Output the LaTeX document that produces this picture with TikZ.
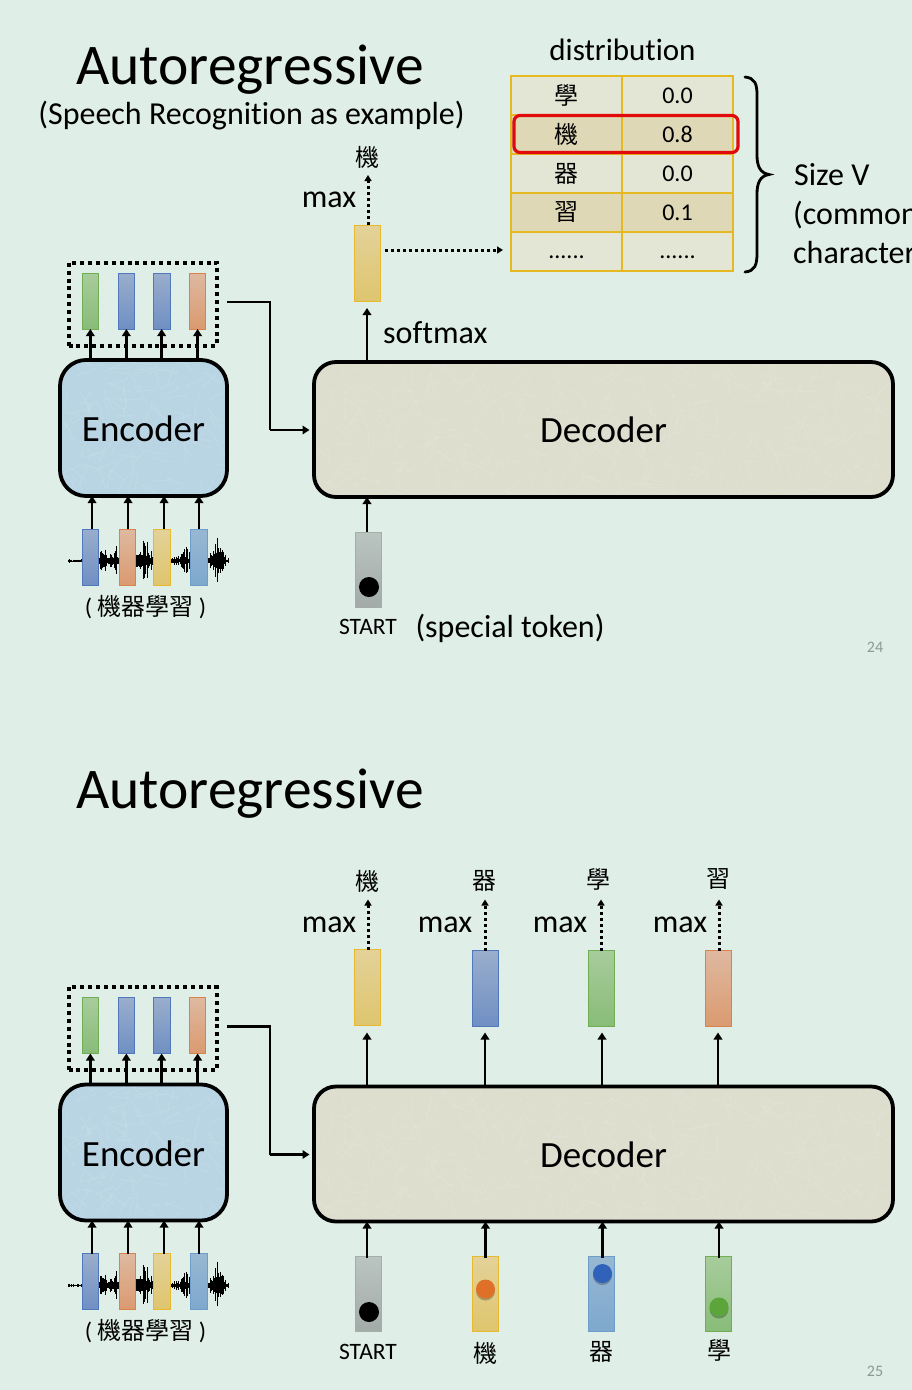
\documentclass[tikz,border=0pt]{standalone}
\usepackage{fontspec}
\setmainfont{Carlito}[RawFeature={-liga}]
\newfontfamily\cjk{Noto Sans CJK TC}
\usetikzlibrary{arrows.meta}
\definecolor{pagebg}{HTML}{DFEEE7}
\definecolor{encfill}{HTML}{B9D5E4}
\definecolor{decfill}{HTML}{DDDECE}
\definecolor{cellA}{HTML}{E3E5D5}
\definecolor{cellB}{HTML}{DFD8B6}
\definecolor{cellline}{HTML}{E6B822}
\definecolor{redbox}{HTML}{E00A0A}
\definecolor{numgray}{HTML}{8C9A94}
\definecolor{barBlueT}{HTML}{9AAECC}\definecolor{barBlueB}{HTML}{6F8FC3}\definecolor{barBlueL}{HTML}{4F78BD}
\definecolor{barOrT}{HTML}{DEB9A0}\definecolor{barOrB}{HTML}{DB9A70}\definecolor{barOrL}{HTML}{D9824C}
\definecolor{barGrT}{HTML}{A8CC9C}\definecolor{barGrB}{HTML}{88BC78}\definecolor{barGrL}{HTML}{71AD52}
\definecolor{barYeT}{HTML}{E3D299}\definecolor{barYeB}{HTML}{DFC56E}\definecolor{barYeL}{HTML}{E8B92F}
\definecolor{barSkT}{HTML}{97B8D2}\definecolor{barSkB}{HTML}{7EA8CE}\definecolor{barSkL}{HTML}{6D9EC9}
\definecolor{barGyT}{HTML}{BAC4C0}\definecolor{barGyB}{HTML}{A3ABA8}\definecolor{barGyL}{HTML}{A5ADA9}
\definecolor{ballOr}{HTML}{DF7028}
\definecolor{ballBl}{HTML}{2F62B8}
\definecolor{ballGr}{HTML}{5BA53A}
\tikzset{
  x=1pt,y=-1pt,
  fs/.style={font=\fontsize{#1}{#1}\selectfont},
  cj/.style={font=\cjk\fontsize{#1}{#1}\selectfont},
  bluebar/.style={top color=barBlueT,bottom color=barBlueB,draw=barBlueL},
  orangebar/.style={top color=barOrT,bottom color=barOrB,draw=barOrL},
  greenbar/.style={top color=barGrT,bottom color=barGrB,draw=barGrL},
  yellowbar/.style={top color=barYeT,bottom color=barYeB,draw=barYeL},
  skybar/.style={top color=barSkT,bottom color=barSkB,draw=barSkL},
  graybar/.style={top color=barGyT,bottom color=barGyB,draw=barGyL},
  barbase/.style={rectangle,inner sep=0pt,outer sep=0pt,line width=.9pt},
  block/.style={rectangle,rounded corners=#1,draw=black,line width=3.8pt,inner sep=0pt,outer sep=0pt},
  arr/.style={draw=black,line width=2.8pt,-{Triangle[width=8.5pt,length=7pt]}},
  dotarr/.style={draw=black,line width=3pt,dash pattern=on 3pt off 3pt,-{Triangle[width=7pt,length=6pt]}},
  link/.style={draw=black,line width=2.8pt},
  cell/.style={rectangle,draw=cellline,line width=1.1pt,inner sep=0pt,outer sep=0pt,minimum width=111pt,minimum height=39pt},
  tok/.style={circle,inner sep=0pt,outer sep=0pt,minimum size=#1},
}
\newcommand{\barnode}[6]{% name, x1, y1, x2, y2, style
  \node[barbase,#6,minimum width=#4pt-#2pt,minimum height=#5pt-#3pt] (#1) at ({(#2+#4)/2},{(#3+#5)/2}) {};}
\newcommand{\ballshadow}[3]{\fill[black,opacity=.25] (#1,#2+1.5) circle (#3);}
\newcommand{\titletext}{\node[fs=57.5,anchor=base,inner sep=0pt] (title) at (250,84) {Autoregressive};}
% faint mottled strokes: x1,y1,x2,y2,radius,count,colour
\newcommand{\mottle}[7]{%
  \begin{scope}
    \clip[rounded corners=#5pt] (#1,#2) rectangle (#3,#4);
    \foreach \k in {1,...,#6}{
      \pgfmathsetmacro{\mx}{#1+(#3-#1)*rnd}
      \pgfmathsetmacro{\my}{#2+(#4-#2)*rnd}
      \pgfmathsetmacro{\ma}{360*rnd}
      \draw[#7,opacity=.1,line width=.8pt] (\mx,\my) .. controls +(\ma:7) and +(\ma+70:9) .. +(\ma+30:18);
    }
  \end{scope}}
% everything common to both slides
\newcommand{\encoderpart}{%
  \pgfmathsetseed{23}
  \node[block=26pt,fill=encfill,minimum width=167pt,minimum height=136pt] (enc) at (143.5,428) {};
  \mottle{62}{362}{225}{494}{24}{130}{white}
  \node[fs=37] (enctext) at (143.5,429) {Encoder};
  \node[rectangle,draw=black,line width=4pt,dash pattern=on 4pt off 3.9pt,minimum width=148pt,minimum height=83pt,inner sep=0pt,outer sep=0pt] (mem) at (142.5,304) {};
  \barnode{o1}{82}{273}{98.7}{329}{greenbar}
  \barnode{o2}{118}{273}{134.7}{329}{bluebar}
  \barnode{o3}{153}{273}{170.3}{329}{bluebar}
  \barnode{o4}{189.5}{273}{205.7}{329}{orangebar}
  \foreach \n in {o1,o2,o3,o4}{\draw[arr] (\n |- enc.north) -- (\n.south);}
  % speech waveform
  \pgfmathsetseed{11}
  \draw[black,line width=1pt] (68,561) -- (228,561);
  \foreach \xx in {68,69,...,228}{
    \pgfmathsetmacro{\ua}{1/(1+((\xx-103)/2.5)^2)}
    \pgfmathsetmacro{\ub}{1/(1+((\xx-115)/4)^2)}
    \pgfmathsetmacro{\uc}{1/(1+((\xx-145)/5)^2)}
    \pgfmathsetmacro{\ud}{1/(1+((\xx-185)/4)^2)}
    \pgfmathsetmacro{\ue}{1/(1+((\xx-217)/4.5)^2)}
    \pgfmathsetmacro{\amp}{(1.5+20*\ua+14*\ub+23*\uc+15*\ud+25*\ue)*(0.2+0.8*rnd)}
    \draw[black,line width=.8pt] (\xx,561-\amp) -- (\xx,561+\amp*0.9);
  }
  \barnode{i1}{82}{529}{98.7}{585}{bluebar}
  \barnode{i2}{119}{529}{135.5}{585}{orangebar}
  \barnode{i3}{153}{529}{170.5}{585}{yellowbar}
  \barnode{i4}{190.3}{529}{207.5}{585}{skybar}
  \foreach \n/\dx in {i1/1.7,i2/.8,i3/2.3,i4/.1}{\draw[arr] ([xshift=\dx pt]\n.north) -- ([xshift=\dx pt]\n.north |- enc.south);}
  \node[inner sep=0pt] (wavelabel) at (145.5,607) {\fontsize{24}{24}\selectfont( {\cjk\fontsize{24}{24}\selectfont 機器學習} )};
  \node[block=22pt,fill=decfill,minimum width=579pt,minimum height=135pt] (dec) at (603.5,429.5) {};
  \mottle{316}{364}{891}{495}{20}{420}{white}
  \node[fs=37] (dectext) at (603.5,430) {Decoder};
  \coordinate (memout) at (227,302);
  \coordinate (elbow) at (270,430);
  \coordinate (decin) at (309.5,430);
  \draw[link] (memout) -| (elbow);
  \draw[arr] (elbow) -- (decin);
}
\begin{document}
\begin{tikzpicture}
\useasboundingbox (0,0) rectangle (912,1390);
\clip (0,0) rectangle (912,1390);
\fill[pagebg] (0,0) rectangle (912,1390);
%% ---------- first slide
\begin{scope}[name prefix=a-]
\titletext
\node[fs=32] (sub) at (251.5,116) {(Speech Recognition as example)};
\encoderpart
\barnode{in}{355}{532}{381}{607}{graybar}
\node[tok=20pt,fill=black] (inball) at (369,587) {};
\coordinate (inup) at (367,532);
\draw[arr] (inup) -- (inup |- dec.south);
\node[fs=23.5] (starttxt) at (368,627) {START};
\node[fs=32] (special) at (510,628) {(special token)};
\barnode{out}{354}{225}{380}{301}{yellowbar}
\coordinate (softtop) at (367,308);
\draw[arr] (softtop |- dec.north) -- (softtop);
\node[fs=32,anchor=west,inner sep=0pt] (softmax) at (383,333) {softmax};
\coordinate (maxtop) at (368,175);
\draw[dotarr] (maxtop |- out.north) -- (maxtop);
\node[fs=32] (maxl) at (329,200) {max};
\node[cj=24] (ch) at (367,157) {機};
\foreach \i/\y/\f/\c/\v in {1/95.5/cellA/學/0.0,2/134.5/cellB/機/0.8,3/173.5/cellA/器/0.0,4/212.5/cellB/習/0.1}{
  \node[cell,fill=\f] (k\i) at (566.5,\y) {};
  \node[cell,fill=\f] (v\i) at (677.5,\y) {};
  \node[cj=24] at (k\i) {\c};
  \node[fs=24] at (v\i) {\v};
}
\node[cell,fill=cellA] (k5) at (566.5,251.5) {};
\node[cell,fill=cellA] (v5) at (677.5,251.5) {};
\node[fs=24,yshift=-6pt] at (k5) {......};
\node[fs=24,yshift=-6pt] at (v5) {......};
\coordinate (dots0) at (385,250);
\coordinate (dots1) at (503,250);
\draw[dotarr] (dots0) -- (dots1);
\node[fs=31] (dist) at (622.5,50) {distribution};
\node[rectangle,rounded corners=6pt,draw=redbox,line width=3.2pt,minimum width=224pt,minimum height=37pt,inner sep=0pt] (hl) at (626,134) {};
\draw[black,line width=2.8pt,line cap=round]
  (745,77) .. controls (755,78) and (757,84) .. (757,95)
  -- (757,155) .. controls (757,166) and (760,173) .. (769,174.5)
  .. controls (760,176) and (757,183) .. (757,194)
  -- (757,253) .. controls (757,265) and (755,271) .. (745,272);
\node[fs=32,anchor=west,inner sep=0pt] (sizev) at (794,175) {Size V};
\node[fs=32,anchor=west,inner sep=0pt] (common) at (793,215) {(common};
\node[fs=32,anchor=west,inner sep=0pt] (chars) at (793,253) {characters};
\node[fs=16,text=numgray] (pg) at (875,647) {24};
\end{scope}
%% ---------- second slide
\begin{scope}[yshift=-724.5pt,name prefix=b-]
\titletext
\encoderpart
\barnode{in1}{355}{531.5}{381}{607}{graybar}
\barnode{in2}{472}{531.5}{498}{607}{yellowbar}
\barnode{in3}{588.5}{531.5}{614.5}{607}{skybar}
\barnode{in4}{705}{531.5}{731}{607}{greenbar}
\ballshadow{485.5}{565}{9.5}
\ballshadow{602.5}{549.5}{9.5}
\ballshadow{719}{583}{9.5}
\node[tok=20pt,fill=black] (ball1) at (369,587.5) {};
\node[tok=19pt,fill=ballOr] (ball2) at (485.5,564.5) {};
\node[tok=19pt,fill=ballBl] (ball3) at (602.5,549) {};
\node[tok=19pt,fill=ballGr] (ball4) at (719,582.5) {};
\foreach \x/\i in {367/1,485.5/2,602.5/3,719/4}{
  \coordinate (up\i) at (\x,533);
  \draw[arr] (up\i) -- (up\i |- dec.south);
}
\node[fs=23.5] (t1) at (368,627) {START};
\node[cj=24] (t2) at (485,629) {機};
\node[cj=24] (t3) at (601,627) {器};
\node[cj=24] (t4) at (719,626) {學};
\barnode{u1}{354}{225}{380}{301}{yellowbar}
\barnode{u2}{472}{226}{498}{302}{bluebar}
\barnode{u3}{588}{226}{614}{302}{greenbar}
\barnode{u4}{705}{226}{731}{302}{orangebar}
\foreach \x/\i in {367/1,485/2,602/3,718/4}{
  \coordinate (dn\i) at (\x,308);
  \draw[arr] (dn\i |- dec.north) -- (dn\i);
}
\foreach \x/\i in {368/1,485/2,601/3,719/4}{
  \coordinate (dt\i) at (\x,175);
  \draw[dotarr] (dt\i |- u\i.north) -- (dt\i);
}
\foreach \x/\i in {329/1,445/2,560/3,680/4}{
  \node[fs=32] (m\i) at (\x,200) {max};
}
\node[cj=24] (c1) at (367,157) {機};
\node[cj=24] (c2) at (484,156) {器};
\node[cj=24] (c3) at (598,155) {學};
\node[cj=24] (c4) at (718,155) {習};
\node[fs=16,text=numgray] (pg) at (875,647) {25};
\end{scope}
\end{tikzpicture}
\end{document}
